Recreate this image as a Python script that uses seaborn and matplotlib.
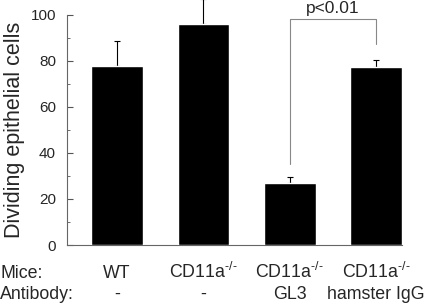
import matplotlib
matplotlib.use('Agg')
import matplotlib.pyplot as plt
import matplotlib.transforms as mtransforms
from matplotlib.ticker import MultipleLocator
import pandas as pd
import seaborn as sns

sns.set_style('white')
plt.rcParams['font.family'] = ['Liberation Sans', 'DejaVu Sans']
plt.rcParams['mathtext.fontset'] = 'custom'
plt.rcParams['mathtext.rm'] = 'Liberation Sans'
plt.rcParams['mathtext.it'] = 'Liberation Sans:italic'

# values
groups = ['WT', 'KO', 'KO_GL3', 'KO_IgG']
mice = ['WT', r'CD11a$^{\text{-/-}}$', r'CD11a$^{\text{-/-}}$', r'CD11a$^{\text{-/-}}$']
antibody = ['-', '-', 'GL3', 'hamster IgG']
dividing = [78, 96, 27, 77.5]
err_up = [10.5, 11, 2.5, 3]

df = pd.DataFrame({'group': groups, 'value': dividing})

fig = plt.figure(figsize=(4.33, 3.04), dpi=100)
ax = fig.add_axes([0.155, 0.194, 0.773, 0.757])

sns.barplot(data=df, x='group', y='value', color='black', width=0.6,
            saturation=1, ax=ax, zorder=3)
ax.errorbar(range(len(groups)), dividing, yerr=[[0] * len(groups), err_up],
            fmt='none', ecolor='black', elinewidth=0.8, capsize=2.5,
            capthick=0.8, zorder=2, clip_on=False)

ax.set_ylim(0, 100)
ax.set_xlim(-0.58, 3.3)
ax.yaxis.set_major_locator(MultipleLocator(20))
ax.yaxis.set_minor_locator(MultipleLocator(10))
ax.tick_params(axis='y', which='major', direction='in', length=4, width=0.8,
               color='#555555', labelsize=11, pad=8, left=True)
ax.tick_params(axis='y', which='minor', direction='in', length=2.5, width=0.6,
               color='#555555', left=True)
ax.tick_params(axis='x', length=0, labelbottom=False)
sns.despine(ax=ax)
for side in ['left', 'bottom']:
    ax.spines[side].set_color('#666666')
    ax.spines[side].set_linewidth(0.8)

ax.set_xlabel('')
ax.set_ylabel('Dividing epithelial cells', fontsize=15.5, labelpad=4)

trans = mtransforms.blended_transform_factory(ax.transData, fig.transFigure)
row1 = 1 - 278 / 304
row2 = 1 - 299 / 304
for i, (m, ab) in enumerate(zip(mice, antibody)):
    ax.text(i, row1, m, transform=trans, ha='center', va='baseline',
            fontsize=12.8)
    ax.text(i, row2, ab, transform=trans, ha='center', va='baseline',
            fontsize=12.8)
fig.text(0.0, row1, 'Mice:', ha='left', va='baseline', fontsize=12.8)
fig.text(0.0, row2, 'Antibody:', ha='left', va='baseline', fontsize=12.8)

# significance bracket
ax.plot([2, 2, 3, 3], [35, 98, 98, 87.5], color='#888888', lw=0.8,
        clip_on=False, zorder=4)
ax.text(2.5, 99.5, 'p<0.01', ha='center', va='bottom', fontsize=12.5)

fig.savefig('out.png', dpi=100)
